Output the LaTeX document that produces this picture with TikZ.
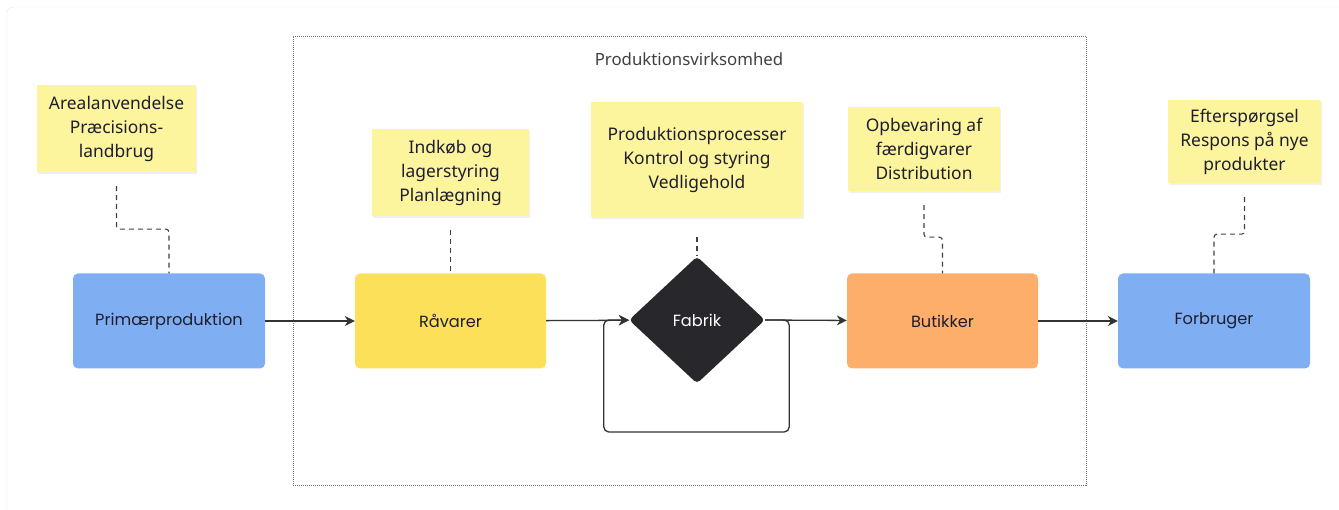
\documentclass[tikz,border=0pt]{standalone}
\usepackage{fontspec}
\setmainfont{Noto Sans}
\newfontfamily\boxfont{Poppins}
\usetikzlibrary{arrows.meta,shapes.geometric,shadows,positioning}
\definecolor{boxblue}{HTML}{80AEF2}
\definecolor{boxyellow}{HTML}{FDE05A}
\definecolor{boxorange}{HTML}{FEAE6B}
\definecolor{stickyyellow}{HTML}{FDF49E}
\definecolor{darkfab}{HTML}{27272C}
\definecolor{ink}{HTML}{1E1E2E}

\begin{document}
\begin{tikzpicture}[x=1pt,y=-1pt,
  stage/.style={rectangle,rounded corners=5pt,minimum width=192pt,minimum height=95pt,
    font=\boxfont\fontsize{16.2}{19}\selectfont,text=ink},
  sticky/.style={rectangle,fill=stickyyellow,align=center,inner sep=0pt,
    font=\fontsize{17.4}{24}\selectfont,text=ink,
    drop shadow={opacity=0.12,shadow xshift=1pt,shadow yshift=-2pt}},
  flow/.style={draw=black!80,line width=1.3pt,-{Stealth[length=10pt,width=10pt]}},
  note/.style={draw=black!75,line width=1.1pt,dash pattern=on 5pt off 4pt,rounded corners=3pt}]
\useasboundingbox (0,0) rectangle (1339,510);
\draw[black!10,rounded corners=6pt] (7,510) |- (1339,7);
\node[draw=black!55,dash pattern=on 1pt off 1pt,minimum width=793pt,minimum height=449pt] (firm) at (689.5,260.5) {};
\node[font=\fontsize{16.8}{19}\selectfont,text=black!75] (title) at (689,59) {Produktionsvirksomhed};
\node[stage,fill=boxblue] (prim) at (169,321) {Primærproduktion};
\node[stage,fill=boxyellow,minimum width=191pt] (raw) at (450.5,321) {Råvarer};
\node[diamond,fill=darkfab,rounded corners=4pt,inner sep=0pt,minimum width=136pt,minimum height=127pt,
  text=white,font=\boxfont\fontsize{16.2}{19}\selectfont] (fab) at (697,320) {Fabrik};
\node[stage,fill=boxorange,minimum width=191pt] (shop) at (942.5,321) {Butikker};
\node[stage,fill=boxblue] (cons) at (1214,321) {Forbruger};
\node[sticky,minimum width=159pt,minimum height=87pt] (s1) at (116.5,128.5) {Arealanvendelse\\Præcisions-\\landbrug};
\node[sticky,minimum width=157pt,minimum height=87pt] (s2) at (450.5,172.5) {Indkøb og\\lagerstyring\\Planlægning};
\node[sticky,minimum width=212pt,minimum height=115pt] (s3) at (697,159.5) {Produktionsprocesser\\Kontrol og styring\\Vedligehold};
\node[sticky,minimum width=152pt,minimum height=84pt] (s4) at (924,149) {Opbevaring af\\færdigvarer\\Distribution};
\node[sticky,minimum width=153pt,minimum height=83pt] (s5) at (1244.5,141.5) {Efterspørgsel\\Respons på nye\\produkter};
\draw[flow] (prim) -- (raw);
\draw[flow] (raw) -- (fab);
\draw[flow,rounded corners=5pt] (fab.east) -- ++(24,0) -- ++(0,112) -| ([xshift=-25pt]fab.west) -- (fab.west);
\draw[flow] (fab.east) -- (shop);
\draw[flow] (shop) -- (cons);
\draw[note] ([yshift=-14pt]s1.south) -- ++(0,43) -| (prim.north);
\draw[note] ([yshift=-14pt]s2.south) -- (raw.north);
\draw[note] ([yshift=-20pt]s3.south) -- (fab.north);
\draw[note] ([yshift=-14pt]s4.south) -- ++(0,32) -| (shop.north);
\draw[note] ([yshift=-14pt]s5.south) -- ++(0,37) -| (cons.north);
\end{tikzpicture}
\end{document}
